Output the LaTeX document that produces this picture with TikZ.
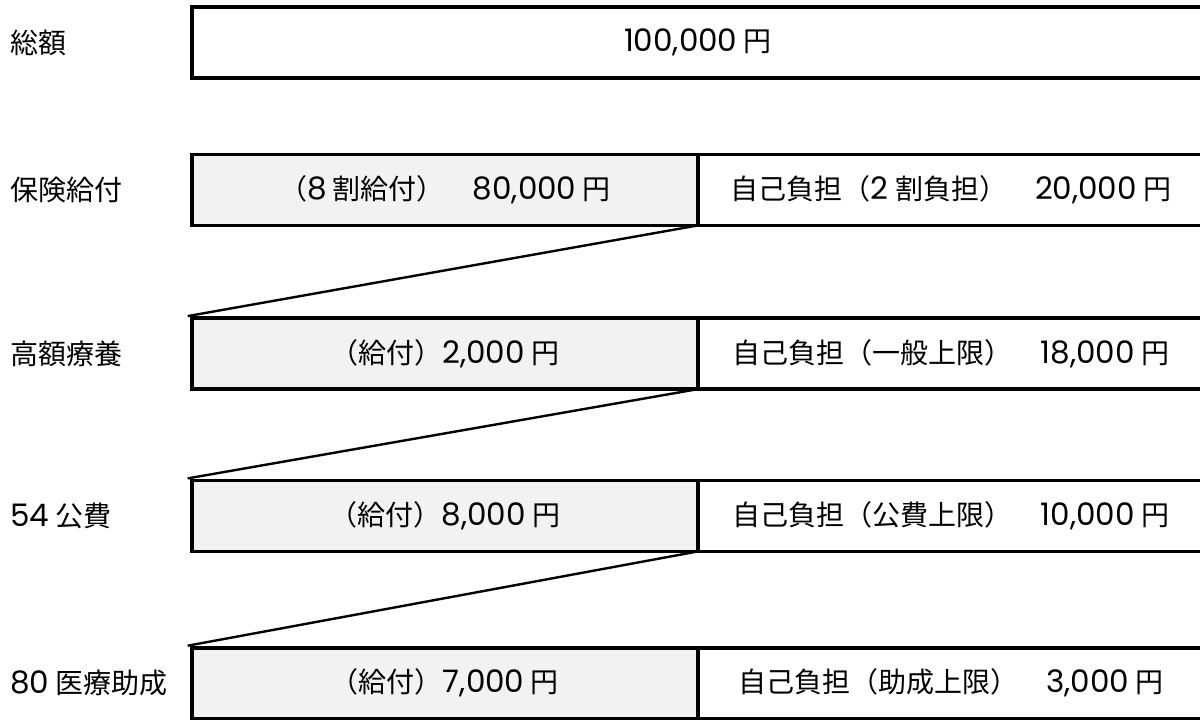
\documentclass[tikz,border=0pt]{standalone}
\usepackage{fontspec}
\setmainfont{Noto Sans CJK JP}
\newfontfamily\numfont{Poppins}
\newcommand{\Nm}[1]{{\numfont\fontsize{31}{32}\selectfont #1}}
\definecolor{boxgray}{HTML}{F2F2F2}
\begin{document}
\begin{tikzpicture}[x=1pt,y=-1pt,
  every node/.style={font=\fontsize{28}{32}\selectfont, inner sep=0pt, outer sep=0pt},
  lab/.style={anchor=west},
  bar/.style={draw=black, line width=3.8pt, minimum height=71pt},
  givebox/.style={bar, fill=boxgray, minimum width=506.3pt},
  selfbox/.style={bar, fill=white, minimum width=506pt},
  link/.style={draw=black, line width=2.4pt}]
\useasboundingbox (0,0) rectangle (1200,720);
% total
\node[bar, fill=white, minimum width=1012.3pt, minimum height=71.6pt] (tot) at (697.85,42.5) {\Nm{100,000} 円};
\node[lab] (ltot) at (10,42.5) {総額};
% row 2
\node[selfbox] (s2) at (951,189.9) {自己負担（\Nm{2} 割負担）　\Nm{20,000} 円};
\node[givebox] (g2) at (444.85,189.9) {（\Nm{8} 割給付）　\Nm{80,000} 円};
\node[lab] (l2) at (10,189.9) {保険給付};
% row 3
\node[selfbox] (s3) at (951,353.6) {自己負担（一般上限）　\Nm{18,000} 円};
\node[givebox] (g3) at (444.85,353.6) {（給付）\Nm{2,000} 円};
\node[lab] (l3) at (10,353.6) {高額療養};
% row 4
\node[selfbox] (s4) at (951,515.9) {自己負担（公費上限）　\Nm{10,000} 円};
\node[givebox] (g4) at (444.85,515.9) {（給付）\Nm{8,000} 円};
\node[lab] (l4) at (10,515.9) {\Nm{54} 公費};
% row 5
\node[selfbox] (s5) at (951,683.2) {自己負担（助成上限）　\Nm{3,000} 円};
\node[givebox] (g5) at (444.85,683.2) {（給付）\Nm{7,000} 円};
\node[lab] (l5) at (10,683.2) {\Nm{80} 医療助成};
% links
\draw[link] (g2.south east) -- ([shift={(-4,-2)}]g3.north west);
\draw[link] (g3.south east) -- ([shift={(-4,-2)}]g4.north west);
\draw[link] (g4.south east) -- ([shift={(-4,-2)}]g5.north west);
\end{tikzpicture}
\end{document}
